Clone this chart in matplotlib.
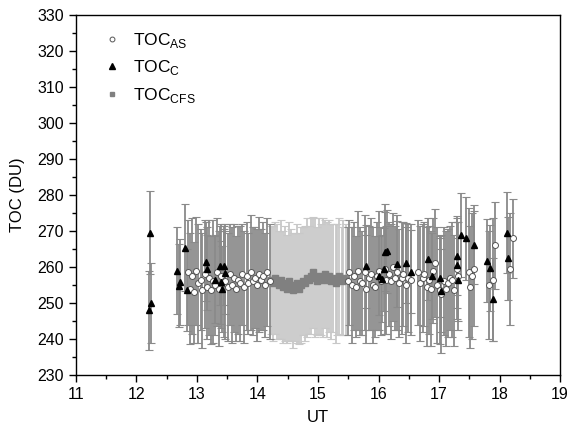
import matplotlib
matplotlib.use("Agg")
import matplotlib.pyplot as plt
from matplotlib.lines import Line2D
from matplotlib.ticker import MultipleLocator

plt.rcParams['font.family'] = ['Liberation Sans', 'DejaVu Sans']

# TOC_AS, first block (morning)
as_a_x = [12.85, 12.88, 12.92, 12.95, 12.99, 13.02, 13.06, 13.09, 13.13, 13.16,
          13.20, 13.23, 13.26, 13.30, 13.33, 13.37, 13.40, 13.44, 13.47, 13.51,
          13.54, 13.58, 13.61, 13.64, 13.68, 13.71, 13.75, 13.78, 13.82, 13.85,
          13.89, 13.92, 13.96, 13.99, 14.02, 14.06, 14.09, 14.13, 14.16, 14.20]
as_a_y = [258.5, 254.0, 257.5, 253.0, 259.0, 255.5, 256.5, 253.5, 258.0, 254.5,
          257.0, 253.5, 256.0, 255.0, 258.5, 254.0, 257.5, 255.5, 256.0, 254.5,
          258.0, 255.0, 257.0, 254.0, 256.5, 255.5, 258.0, 254.5, 257.5, 255.5,
          258.5, 256.0, 257.0, 255.0, 258.0, 256.5, 257.5, 255.0, 258.5, 256.0]
as_a_e = [14.5, 15.5, 16.0, 14.0, 15.0, 16.5, 14.0, 16.0, 15.0, 14.5,
          16.0, 15.0, 17.0, 14.0, 15.0, 16.0, 14.5, 15.0, 16.0, 15.0,
          14.0, 16.0, 15.0, 14.5, 15.0, 16.0, 14.0, 15.5, 15.0, 14.0,
          16.0, 15.0, 14.0, 15.5, 16.0, 14.0, 15.0, 14.5, 15.0, 16.0]

# TOC_AS, second block (afternoon) and sparse late points
as_b_x = [15.49, 15.52, 15.56, 15.59, 15.63, 15.66, 15.70, 15.73, 15.77, 15.80,
          15.84, 15.87, 15.91, 15.94, 15.98, 16.01, 16.04,
          16.10, 16.13, 16.17, 16.20, 16.24, 16.27, 16.31, 16.34, 16.38, 16.41,
          16.45, 16.48, 16.54,
          16.66, 16.69, 16.73, 16.76, 16.80, 16.83, 16.87, 16.90, 16.94, 16.97,
          17.01, 17.04, 17.08, 17.11, 17.15, 17.18, 17.22, 17.25, 17.29, 17.32,
          17.50, 17.52, 17.55, 17.58, 17.82, 17.90, 17.93, 18.17, 18.22]
as_b_y = [256.0, 258.5, 255.0, 257.5, 254.5, 259.0, 256.0, 255.5, 258.5, 254.0,
          257.0, 258.0, 255.0, 254.5, 257.5, 259.0, 256.0,
          259.5, 256.5, 258.0, 256.0, 260.0, 257.0, 258.5, 255.5, 257.0, 258.0,
          255.0, 257.0, 256.5,
          258.5, 255.5, 257.0, 258.0, 254.5, 256.5, 254.0, 259.0, 261.0, 255.0,
          253.5, 252.5, 256.0, 254.0, 255.5, 257.0, 256.5, 253.5, 259.5, 257.5,
          258.5, 254.5, 257.5, 259.5, 255.0, 256.5, 266.0, 259.5, 268.0]
as_b_e = [15.0, 14.5, 16.0, 15.0, 14.0, 16.5, 15.0, 14.5, 16.0, 15.0,
          14.5, 15.5, 16.0, 14.0, 15.0, 16.5, 15.0,
          18.0, 15.0, 14.5, 16.0, 15.0, 14.5, 16.0, 15.0, 15.5, 14.5,
          16.0, 15.0, 15.5,
          14.5, 16.0, 15.0, 14.5, 16.5, 15.0, 16.0, 14.5, 15.0, 16.0,
          15.0, 16.5, 15.0, 16.0, 15.0, 14.5, 16.0, 15.5, 14.0, 15.0,
          18.0, 17.0, 17.5, 16.0, 15.0, 17.0, 12.0, 15.5, 11.0]

# TOC_CFS
cfs_x = [14.22, 14.25, 14.29, 14.32, 14.35, 14.39, 14.42, 14.45, 14.49, 14.52,
         14.55, 14.59, 14.62, 14.65, 14.69, 14.72, 14.75, 14.79, 14.82, 14.85,
         14.89, 14.92, 14.95, 14.99, 15.02, 15.05, 15.09, 15.12, 15.15, 15.19,
         15.22, 15.25, 15.29, 15.32, 15.35, 15.39, 15.42, 15.46]
cfs_y = [256.5, 255.5, 257.0, 256.0, 255.0, 256.5, 254.5, 255.5, 254.0, 256.0,
         255.0, 253.5, 254.5, 255.5, 254.0, 255.0, 256.0, 255.5, 257.0, 256.5,
         257.5, 258.5, 257.0, 256.0, 257.5, 256.5, 257.0, 258.0, 256.5, 257.5,
         256.0, 257.0, 255.5, 256.5, 257.5, 256.0, 257.0, 256.5]
cfs_e = [15.0, 16.0, 15.5, 16.0, 15.0, 16.5, 15.5, 16.0, 15.0, 16.5,
         15.5, 16.0, 15.0, 16.5, 15.5, 16.0, 15.0, 16.0, 16.5, 15.0,
         16.0, 15.5, 16.5, 15.0, 16.0, 15.5, 16.5, 15.0, 16.0, 15.5,
         16.0, 15.0, 16.5, 15.5, 16.0, 15.0, 16.0, 15.5]

# TOC_C
c_x = [12.21, 12.22, 12.24, 12.67, 12.70, 12.72, 12.80, 12.84,
       13.15, 13.17, 13.30, 13.38, 13.40, 13.42, 13.44, 13.46,
       15.79, 16.00, 16.06, 16.09, 16.11, 16.14, 16.31, 16.45, 16.54,
       16.82, 16.88, 17.02, 17.03, 17.29, 17.30, 17.32, 17.37, 17.44,
       17.57, 17.80, 17.84, 17.89, 18.12, 18.14]
c_y = [248.0, 269.5, 250.0, 259.0, 254.8, 255.9, 265.4, 253.6,
       261.5, 259.5, 256.5, 260.4, 255.7, 253.9, 260.4, 258.4,
       260.2, 257.6, 256.8, 259.4, 264.3, 264.4, 260.8, 261.1, 258.7,
       262.2, 257.5, 257.0, 253.4, 260.6, 263.1, 256.5, 268.9, 268.0,
       266.2, 261.7, 259.7, 251.0, 269.5, 262.4]
c_e = [11.0, 11.5, 11.0, 12.0, 11.5, 12.0, 12.0, 11.5,
       11.0, 11.5, 12.0, 11.0, 11.5, 12.0, 11.0, 11.5,
       11.5, 11.0, 12.0, 11.5, 11.0, 11.5, 12.0, 11.0, 11.5,
       11.5, 12.0, 11.0, 11.5, 12.0, 11.0, 11.5, 11.7, 11.5,
       11.0, 11.5, 12.0, 11.5, 11.3, 11.5]

bar_dark = '#8a8a8a'
bar_light = '#c8c8c8'

fig = plt.figure(figsize=(5.7, 4.34), dpi=100)
ax = fig.add_axes([0.1333, 0.136, 0.8492, 0.8294])

ax.errorbar(cfs_x, cfs_y, yerr=cfs_e, fmt='none', ecolor=bar_light,
            elinewidth=1.3, capsize=3, capthick=0.8, zorder=1)
ax.errorbar(as_a_x, as_a_y, yerr=as_a_e, fmt='none', ecolor=bar_dark,
            elinewidth=1.3, capsize=3, capthick=0.8, zorder=2)
ax.errorbar(as_b_x, as_b_y, yerr=as_b_e, fmt='none', ecolor=bar_dark,
            elinewidth=1.3, capsize=3, capthick=0.8, zorder=2)
ax.errorbar(c_x, c_y, yerr=c_e, fmt='none', ecolor=bar_dark,
            elinewidth=1.3, capsize=3, capthick=0.8, zorder=2)

ax.plot(cfs_x, cfs_y, 's', ms=4, mfc='#808080', mec='#808080', zorder=4)
ax.plot(as_a_x, as_a_y, 'o', ms=4.3, mfc='white', mec='#555555', mew=0.7, zorder=5)
ax.plot(as_b_x, as_b_y, 'o', ms=4.3, mfc='white', mec='#555555', mew=0.7, zorder=5)
ax.plot(c_x, c_y, '^', ms=5, mfc='black', mec='black', zorder=6)

ax.set_xlim(11, 19)
ax.set_ylim(230, 330)
ax.xaxis.set_major_locator(MultipleLocator(1))
ax.xaxis.set_minor_locator(MultipleLocator(0.5))
ax.yaxis.set_major_locator(MultipleLocator(10))
ax.yaxis.set_minor_locator(MultipleLocator(5))
ax.tick_params(which='both', direction='out', top=False, right=False,
               labelsize=11.5, width=1)
ax.tick_params(which='major', length=5)
ax.tick_params(which='minor', length=3)
for s in ax.spines.values():
    s.set_linewidth(1)

ax.set_xlabel('UT', fontsize=12, labelpad=6)
ax.set_ylabel('TOC (DU)', fontsize=12, labelpad=9)

handles = [
    Line2D([], [], ls='none', marker='o', ms=3.5, mfc='white', mec='#555555', mew=0.7),
    Line2D([], [], ls='none', marker='^', ms=4.5, mfc='black', mec='black'),
    Line2D([], [], ls='none', marker='s', ms=3.5, mfc='#808080', mec='#808080'),
]
labels = ['TOC$_{\\mathregular{AS}}$', 'TOC$_{\\mathregular{C}}$', 'TOC$_{\\mathregular{CFS}}$']
ax.legend(handles, labels, loc='upper left', bbox_to_anchor=(0.02, 1.0),
          frameon=False, fontsize=12.5, handlelength=1.2, handletextpad=0.6,
          labelspacing=0.5)

fig.savefig('out.png', dpi=100)
